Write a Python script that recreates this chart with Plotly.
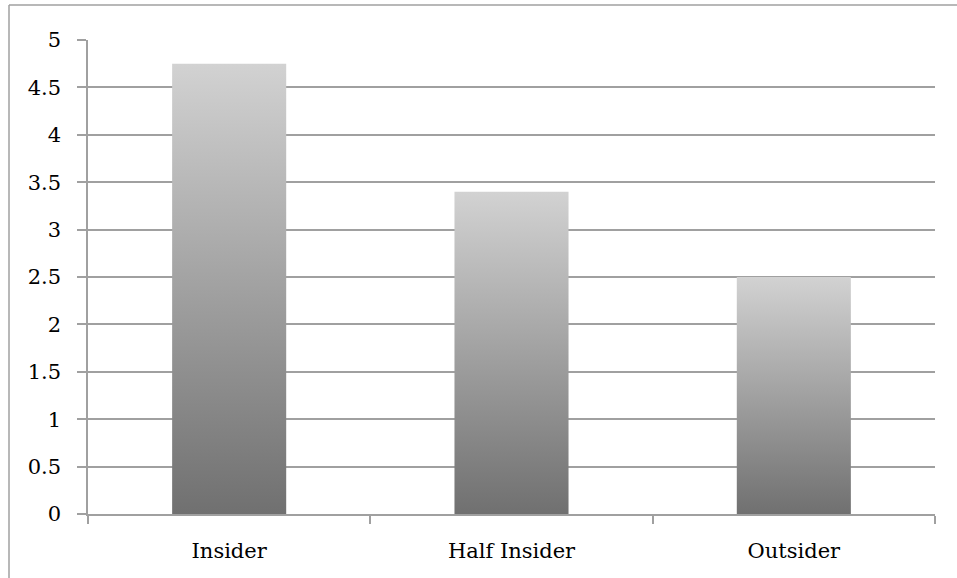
import plotly.graph_objects as go

categories = ["Insider", "Half Insider", "Outsider"]
values = [4.75, 3.4, 2.5]
y_ticks = [0, 0.5, 1, 1.5, 2, 2.5, 3, 3.5, 4, 4.5, 5]
y_tick_labels = ["0", "0.5", "1", "1.5", "2", "2.5", "3", "3.5", "4", "4.5", "5"]

BAR_W = 0.404
FONT = "DejaVu Serif"
GRID = "#a0a0a0"

fig = go.Figure()
for i, (cat, v) in enumerate(zip(categories, values)):
    x0, x1 = i - BAR_W / 2, i + BAR_W / 2
    fig.add_trace(go.Scatter(
        x=[x0, x1, x1, x0, x0], y=[0, 0, v, v, 0],
        mode="lines", fill="toself", line=dict(width=0, color="rgba(0,0,0,0)"),
        fillgradient=dict(type="vertical", colorscale=[[0, "#707070"], [1, "#d2d2d2"]], start=0, stop=v),
        name=cat, showlegend=False, hoverinfo="skip",
    ))

fig.update_layout(
    width=957, height=578,
    margin=dict(l=88, r=22, t=40, b=64),
    paper_bgcolor="white", plot_bgcolor="white",
    font=dict(family=FONT, size=21, color="black"),
    xaxis=dict(
        range=[-0.5, 2.5], tickvals=[0, 1, 2], ticktext=categories, ticks="",
        showgrid=False, zeroline=False, showline=True, linecolor=GRID, linewidth=1.5,
        minor=dict(tickvals=[-0.5, 0.5, 1.5, 2.5], ticks="outside", ticklen=8, tickcolor=GRID, tickwidth=1.5, showgrid=False),
        ticklabelstandoff=17,
    ),
    yaxis=dict(
        range=[0, 5], tickvals=y_ticks, ticktext=y_tick_labels,
        ticks="outside", ticklen=9, tickcolor=GRID, tickwidth=1.5,
        showgrid=True, gridcolor=GRID, gridwidth=1.5, zeroline=False,
        showline=True, linecolor=GRID, linewidth=1.5, ticklabelstandoff=12,
    ),
    shapes=[
        dict(type="line", xref="paper", yref="paper", x0=(9 - 88) / 847, x1=1.1, y0=(514 - 5) / 474, y1=(514 - 5) / 474,
             line=dict(color=GRID, width=1.5)),
        dict(type="line", xref="paper", yref="paper", x0=(9 - 88) / 847, x1=(9 - 88) / 847, y0=(514 - 5) / 474, y1=-0.2,
             line=dict(color=GRID, width=1.5)),
    ],
)
fig.write_html("out.html", config={"displayModeBar": False},
               post_script="document.body.style.margin='0';document.body.style.overflow='hidden';")
